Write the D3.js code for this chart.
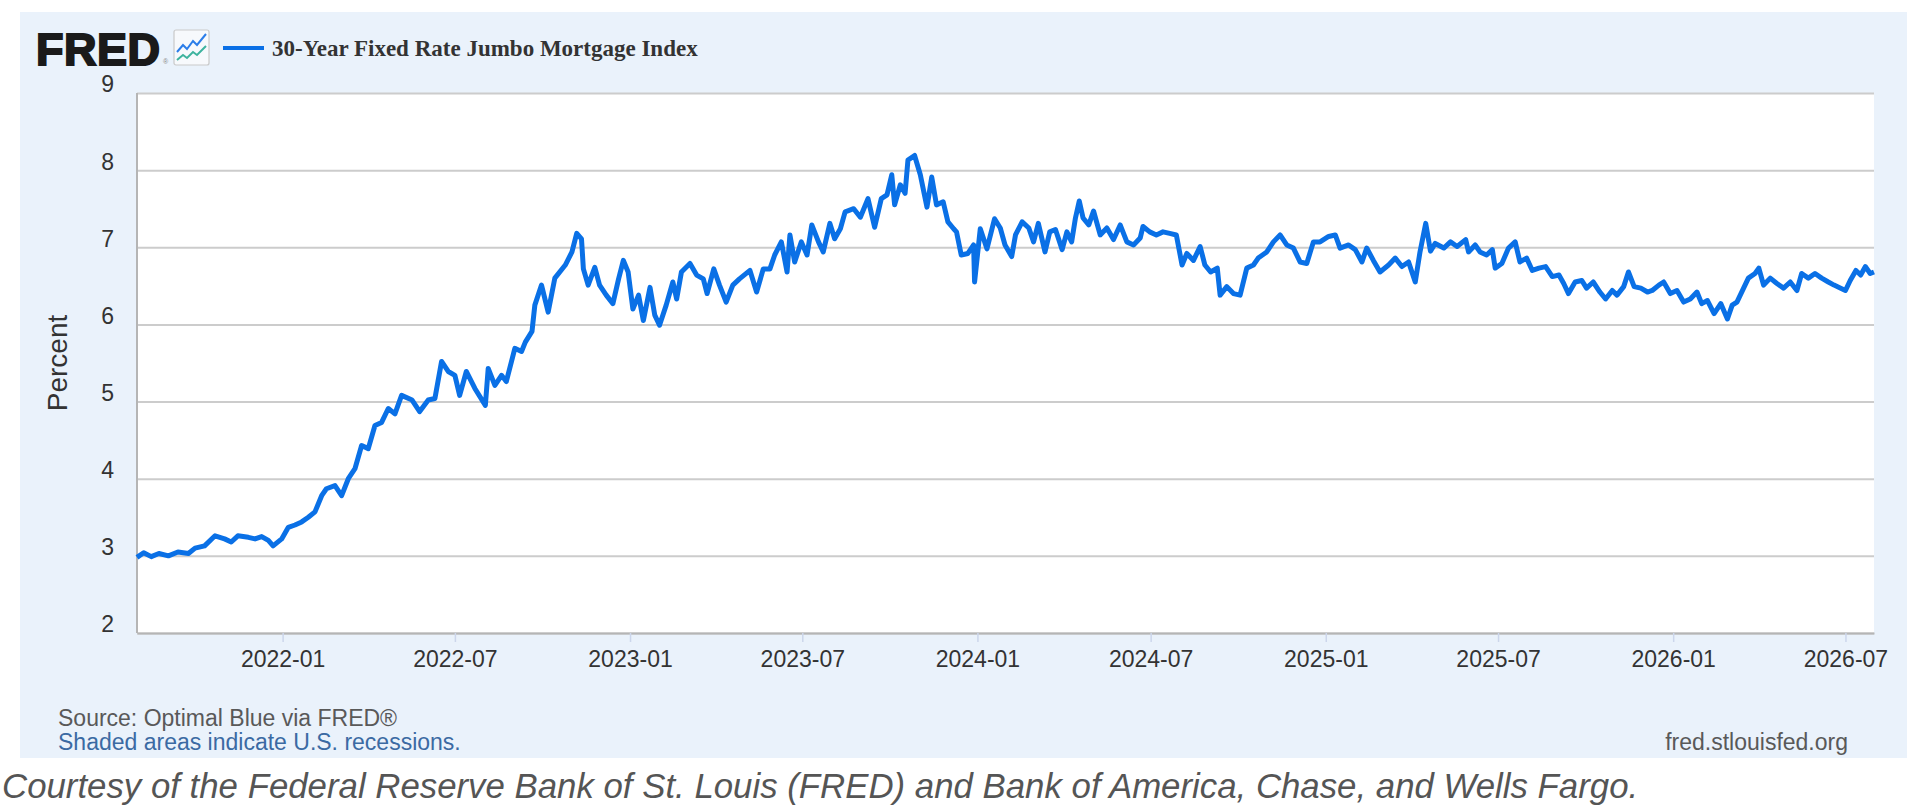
<!DOCTYPE html>
<html>
<head>
<meta charset="utf-8">
<script src="https://cdn.jsdelivr.net/npm/d3@7"></script>
<style>
  body { margin: 0; background: #fff; }
  svg { display: block; }
  text { font-family: "Liberation Sans", Arial, sans-serif; }
</style>
</head>
<body>
<div id="chart"></div>
<script>
// series (roughly weekly)
const seriesName = "30-Year Fixed Rate Jumbo Mortgage Index";

const obsDates = [
  "2021-08-01","2021-08-08","2021-08-16","2021-08-24","2021-09-03","2021-09-13","2021-09-24","2021-10-01",
  "2021-10-11","2021-10-22","2021-11-01","2021-11-08","2021-11-15","2021-11-26","2021-12-03","2021-12-10",
  "2021-12-17","2021-12-22","2021-12-31","2022-01-07","2022-01-14","2022-01-21","2022-01-28","2022-02-04",
  "2022-02-11","2022-02-16","2022-02-25","2022-03-04","2022-03-11","2022-03-18","2022-03-25","2022-04-01",
  "2022-04-08","2022-04-15","2022-04-22","2022-04-29","2022-05-06","2022-05-17","2022-05-25","2022-06-03",
  "2022-06-10","2022-06-17","2022-06-24","2022-07-01","2022-07-06","2022-07-13","2022-07-22","2022-08-02",
  "2022-08-05","2022-08-12","2022-08-19","2022-08-24","2022-09-02","2022-09-09","2022-09-13","2022-09-20",
  "2022-09-23","2022-09-30","2022-10-07","2022-10-14","2022-10-25","2022-11-01","2022-11-06","2022-11-11",
  "2022-11-13","2022-11-18","2022-11-25","2022-11-30","2022-12-07","2022-12-14","2022-12-20","2022-12-25",
  "2022-12-30","2023-01-04","2023-01-10","2023-01-15","2023-01-22","2023-01-27","2023-02-01","2023-02-08",
  "2023-02-15","2023-02-19","2023-02-24","2023-03-05","2023-03-12","2023-03-19","2023-03-23","2023-03-30",
  "2023-04-05","2023-04-12","2023-04-19","2023-04-26","2023-05-07","2023-05-14","2023-05-21","2023-05-28",
  "2023-06-02","2023-06-09","2023-06-15","2023-06-18","2023-06-23","2023-06-30","2023-07-06","2023-07-11",
  "2023-07-18","2023-07-23","2023-07-30","2023-08-04","2023-08-10","2023-08-15","2023-08-24","2023-08-31",
  "2023-09-08","2023-09-15","2023-09-22","2023-09-28","2023-10-03","2023-10-06","2023-10-12","2023-10-17",
  "2023-10-20","2023-10-27","2023-11-02","2023-11-09","2023-11-14","2023-11-19","2023-11-26","2023-12-01",
  "2023-12-07","2023-12-10","2023-12-15","2023-12-22","2023-12-28","2023-12-29","2024-01-04","2024-01-11",
  "2024-01-19","2024-01-25","2024-01-30","2024-02-06","2024-02-10","2024-02-17","2024-02-24","2024-02-29",
  "2024-03-05","2024-03-12","2024-03-17","2024-03-23","2024-03-30","2024-04-04","2024-04-09","2024-04-13",
  "2024-04-17","2024-04-21","2024-04-27","2024-05-02","2024-05-09","2024-05-16","2024-05-23","2024-05-30",
  "2024-06-06","2024-06-13","2024-06-20","2024-06-23","2024-06-30","2024-07-07","2024-07-14","2024-07-21",
  "2024-07-28","2024-08-03","2024-08-08","2024-08-15","2024-08-22","2024-08-27","2024-09-02","2024-09-09",
  "2024-09-12","2024-09-19","2024-09-26","2024-10-03","2024-10-10","2024-10-17","2024-10-22","2024-10-31",
  "2024-11-07","2024-11-14","2024-11-21","2024-11-28","2024-12-05","2024-12-12","2024-12-19","2024-12-26",
  "2025-01-04","2025-01-11","2025-01-16","2025-01-25","2025-02-01","2025-02-08","2025-02-13","2025-02-20",
  "2025-02-27","2025-03-08","2025-03-15","2025-03-22","2025-03-29","2025-04-05","2025-04-10","2025-04-16",
  "2025-04-21","2025-04-26","2025-05-05","2025-05-12","2025-05-19","2025-05-28","2025-05-31","2025-06-07",
  "2025-06-12","2025-06-19","2025-06-25","2025-06-28","2025-07-05","2025-07-12","2025-07-19","2025-07-24",
  "2025-07-31","2025-08-06","2025-08-13","2025-08-20","2025-08-27","2025-09-03","2025-09-08","2025-09-13",
  "2025-09-20","2025-09-27","2025-10-02","2025-10-09","2025-10-16","2025-10-22","2025-10-29","2025-11-03",
  "2025-11-10","2025-11-15","2025-11-21","2025-11-28","2025-12-05","2025-12-10","2025-12-17","2025-12-22",
  "2025-12-29","2026-01-05","2026-01-12","2026-01-19","2026-01-26","2026-01-31","2026-02-06","2026-02-13",
  "2026-02-20","2026-02-27","2026-03-04","2026-03-09","2026-03-16","2026-03-21","2026-03-28","2026-04-01",
  "2026-04-06","2026-04-13","2026-04-20","2026-04-27","2026-05-04","2026-05-11","2026-05-16","2026-05-23",
  "2026-05-30","2026-06-06","2026-06-13","2026-06-19","2026-06-26","2026-07-01","2026-07-06","2026-07-12",
  "2026-07-17","2026-07-22","2026-07-27","2026-07-31"
];

const obsRates = [
  2.98,3.04,2.99,3.03,3.00,3.05,3.03,3.10,
  3.13,3.26,3.22,3.18,3.26,3.24,3.22,3.25,
  3.20,3.13,3.22,3.37,3.40,3.44,3.50,3.57,
  3.78,3.87,3.91,3.78,4.00,4.13,4.43,4.39,
  4.69,4.73,4.91,4.84,5.08,5.02,4.87,5.02,
  5.04,5.52,5.39,5.34,5.08,5.39,5.17,4.95,
  5.43,5.21,5.34,5.26,5.69,5.65,5.77,5.91,
  6.25,6.51,6.16,6.60,6.77,6.94,7.18,7.11,
  6.72,6.51,6.74,6.51,6.38,6.27,6.59,6.83,
  6.68,6.20,6.38,6.05,6.48,6.12,5.99,6.25,
  6.55,6.33,6.68,6.79,6.64,6.59,6.40,6.72,
  6.51,6.29,6.51,6.59,6.70,6.42,6.72,6.72,
  6.90,7.07,6.68,7.16,6.81,7.07,6.90,7.29,
  7.07,6.94,7.31,7.11,7.24,7.46,7.50,7.39,
  7.63,7.26,7.63,7.68,7.94,7.55,7.81,7.70,
  8.13,8.19,7.94,7.52,7.91,7.55,7.59,7.33,
  7.24,7.20,6.90,6.92,7.03,6.55,7.24,6.98,
  7.37,7.25,7.03,6.88,7.16,7.33,7.25,7.07,
  7.31,6.94,7.20,7.23,6.97,7.20,7.07,7.38,
  7.60,7.38,7.29,7.47,7.16,7.25,7.10,7.29,
  7.07,7.03,7.12,7.27,7.20,7.16,7.20,7.18,
  7.16,6.77,6.92,6.83,7.01,6.77,6.68,6.73,
  6.38,6.49,6.40,6.38,6.73,6.77,6.86,6.94,
  7.07,7.16,7.03,6.99,6.81,6.79,7.07,7.07,
  7.14,7.16,6.99,7.03,6.97,6.81,6.99,6.83,
  6.68,6.77,6.86,6.75,6.81,6.55,6.94,7.31,
  6.95,7.05,6.99,7.07,7.01,7.10,6.94,7.03,
  6.94,6.90,6.97,6.73,6.79,6.99,7.07,6.81,
  6.86,6.70,6.73,6.75,6.62,6.64,6.53,6.40,
  6.55,6.57,6.47,6.55,6.42,6.33,6.44,6.38,
  6.49,6.68,6.49,6.47,6.42,6.44,6.51,6.55,
  6.40,6.44,6.29,6.33,6.42,6.27,6.31,6.14,
  6.27,6.07,6.25,6.29,6.47,6.60,6.66,6.73,
  6.51,6.60,6.53,6.47,6.55,6.44,6.66,6.60,
  6.66,6.60,6.55,6.51,6.47,6.44,6.57,6.70,
  6.64,6.75,6.66,6.68
];

const yTicks = [2, 3, 4, 5, 6, 7, 8, 9];
const xDomain = ["2021-08-01", "2026-07-31"];

var svg = d3.select('#chart').append('svg')
    .attr('width', 1920)
    .attr('height', 807);

// light blue FRED panel
svg.append('rect')
    .attr('x', 20).attr('y', 12)
    .attr('width', 1887).attr('height', 746)
    .attr('fill', '#eaf2fb');

var plot = {left: 137, right: 1874, top: 93, bottom: 633};

var parse = d3.timeParse('%Y-%m-%d');
var data = obsDates.map((d, i) => ({date: parse(d), rate: obsRates[i]}));

var x = d3.scaleTime()
    .domain(xDomain.map(parse))
    .range([plot.left, plot.right]);

var y = d3.scaleLinear()
    .domain([2, 9])
    .range([plot.bottom, plot.top]);

svg.append('rect')
    .attr('x', plot.left).attr('y', plot.top)
    .attr('width', plot.right - plot.left)
    .attr('height', plot.bottom - plot.top)
    .attr('fill', '#fff');

// y axis + gridlines
var gy = svg.append('g')
    .attr('transform', `translate(${plot.left},0)`)
    .call(d3.axisLeft(y)
        .tickValues(yTicks)
        .tickSize(-(plot.right - plot.left))
        .tickPadding(23)
        .tickFormat(d3.format('d')));
gy.select('.domain').remove();
gy.selectAll('.tick line').attr('stroke', '#cccccc').attr('stroke-width', 2);
gy.selectAll('.tick text')
    .attr('dy', '-0.05em')
    .attr('fill', '#333')
    .style('font-size', '23px');

// x axis
var gx = svg.append('g')
    .attr('transform', `translate(0,${plot.bottom})`)
    .call(d3.axisBottom(x)
        .ticks(d3.timeMonth.every(6))
        .tickSizeInner(9)
        .tickSizeOuter(0)
        .tickPadding(9)
        .tickFormat(d3.timeFormat('%Y-%m')));
gx.select('.domain').attr('stroke', '#b5b5b5').attr('stroke-width', 2);
gx.selectAll('.tick line').attr('stroke', '#ccd6eb').attr('stroke-width', 1.5);
gx.selectAll('.tick text')
    .attr('fill', '#333')
    .style('font-size', '23px');

// left axis line
svg.append('line')
    .attr('x1', plot.left).attr('x2', plot.left)
    .attr('y1', plot.top).attr('y2', plot.bottom)
    .attr('stroke', '#b5b5b5').attr('stroke-width', 2);

svg.append('text')
    .attr('transform', 'translate(67,363) rotate(-90)')
    .attr('text-anchor', 'middle')
    .attr('fill', '#333')
    .style('font-size', '28px')
    .text('Percent');

// the series
var line = d3.line()
    .x(d => x(d.date))
    .y(d => y(d.rate));

svg.append('path')
    .datum(data)
    .attr('d', line)
    .attr('fill', 'none')
    .attr('stroke', '#0a70e6')
    .attr('stroke-width', 5)
    .attr('stroke-linejoin', 'round');

// header: logo, icon, legend
svg.append('text')
    .attr('x', 36).attr('y', 65)
    .attr('fill', '#1a1a1a')
    .attr('stroke', '#1a1a1a').attr('stroke-width', 2)
    .style('font-size', '45px').style('font-weight', 'bold')
    .style('letter-spacing', '0.5px')
    .text('FRED');
svg.append('text')
    .attr('x', 163).attr('y', 64)
    .attr('fill', '#888')
    .style('font-size', '7px')
    .text('®');

var icon = svg.append('g').attr('transform', 'translate(174,30)');
icon.append('rect')
    .attr('width', 35).attr('height', 35).attr('rx', 2)
    .attr('fill', '#f7f9fc').attr('stroke', '#c9c9c9').attr('stroke-width', 1.2);
icon.append('path')
    .attr('d', 'M3,22 L9,15 L13,19 L19,11 L23,15 L32,4')
    .attr('fill', 'none').attr('stroke', '#2b7de9').attr('stroke-width', 2);
icon.append('path')
    .attr('d', 'M3,30 L9,25 L13,28 L19,22 L23,25 L32,16')
    .attr('fill', 'none').attr('stroke', '#3db39e').attr('stroke-width', 2);

svg.append('line')
    .attr('x1', 223).attr('x2', 264)
    .attr('y1', 48).attr('y2', 48)
    .attr('stroke', '#0a70e6').attr('stroke-width', 4);
svg.append('text')
    .attr('x', 272).attr('y', 56)
    .attr('fill', '#333')
    .style('font-family', '"Liberation Serif", "Times New Roman", serif')
    .style('font-size', '23px').style('font-weight', 'bold')
    .text(seriesName);

// footer
svg.append('text')
    .attr('x', 58).attr('y', 726)
    .attr('fill', '#595959')
    .style('font-size', '23px')
    .text('Source: Optimal Blue via FRED®');
svg.append('text')
    .attr('x', 58).attr('y', 750)
    .attr('fill', '#3b6aa3')
    .style('font-size', '23px')
    .text('Shaded areas indicate U.S. recessions.');
svg.append('text')
    .attr('x', 1848).attr('y', 750)
    .attr('text-anchor', 'end')
    .attr('fill', '#595959')
    .style('font-size', '23px')
    .text('fred.stlouisfed.org');

svg.append('text')
    .attr('x', 2).attr('y', 798)
    .attr('fill', '#555')
    .style('font-size', '34.8px').style('font-style', 'italic')
    .text('Courtesy of the Federal Reserve Bank of St. Louis (FRED) and Bank of America, Chase, and Wells Fargo.');
</script>
</body>
</html>
